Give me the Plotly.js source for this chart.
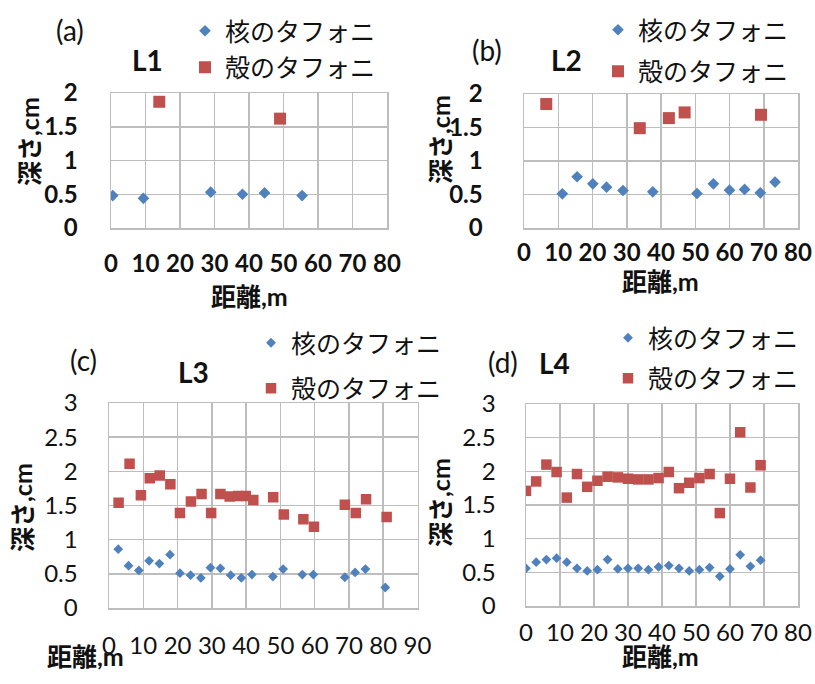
<!DOCTYPE html>
<html>
<head>
<meta charset="utf-8">
<script src="https://cdn.plot.ly/plotly-3.0.1.min.js"></script>
<style>html,body{margin:0;padding:0;background:#fff;}#chart{width:815px;height:684px;}</style>
</head>
<body>
<div id="chart"></div>
<script>
// ---- data ----
const seriesNames = ["核のタフォニ", "殻のタフォニ"];

const aCoreX = [0.5, 9.4, 28.9, 38.1, 44.5, 55.4];
const aCoreY = [0.48, 0.44, 0.53, 0.50, 0.52, 0.48];
const aShellX = [14, 49];
const aShellY = [1.87, 1.62];

const bCoreX = [11.2, 15.5, 20.1, 24.1, 28.9, 37.6, 50.5, 55.3, 60.0, 64.4, 69.0, 73.3];
const bCoreY = [0.51, 0.765, 0.66, 0.61, 0.56, 0.54, 0.515, 0.66, 0.565, 0.575, 0.525, 0.685];
const bShellX = [6.5, 33.8, 42.3, 46.9, 69.2];
const bShellY = [1.85, 1.49, 1.64, 1.725, 1.69];

const cCoreX = [2.7, 5.7, 8.7, 11.7, 14.7, 17.8, 20.7, 23.8, 26.8, 29.6, 32.5, 35.5, 38.6, 41.7, 47.8, 50.8, 56.4, 59.6, 68.8, 71.8, 74.8, 80.6];
const cCoreY = [0.86, 0.62, 0.55, 0.69, 0.65, 0.78, 0.51, 0.48, 0.44, 0.59, 0.58, 0.48, 0.44, 0.49, 0.46, 0.57, 0.49, 0.49, 0.45, 0.52, 0.57, 0.30];
const cShellX = [2.8, 6.0, 9.3, 11.9, 14.8, 17.9, 20.7, 23.9, 27.0, 29.8, 32.5, 35.2, 37.7, 39.9, 42.1, 47.9, 51.0, 56.7, 59.8, 68.8, 72.0, 75.0, 81.0];
const cShellY = [1.54, 2.11, 1.65, 1.90, 1.94, 1.81, 1.39, 1.56, 1.67, 1.39, 1.67, 1.63, 1.64, 1.64, 1.58, 1.62, 1.37, 1.30, 1.19, 1.51, 1.39, 1.59, 1.33];

const dCoreX = [0, 3, 6, 9, 12, 15, 18, 21, 24, 27, 30, 33, 36, 39, 42, 45, 48, 51, 54, 57, 60, 63, 66, 69];
const dCoreY = [0.56, 0.65, 0.69, 0.71, 0.65, 0.56, 0.52, 0.54, 0.69, 0.55, 0.56, 0.56, 0.54, 0.58, 0.60, 0.56, 0.52, 0.54, 0.57, 0.44, 0.55, 0.76, 0.59, 0.68];
const dShellX = [0, 3, 6, 9, 12, 15, 18, 21, 24, 27, 30, 33, 36, 39, 42, 45, 48, 51, 54, 57, 60, 63, 66, 69];
const dShellY = [1.71, 1.85, 2.10, 1.99, 1.61, 1.96, 1.77, 1.86, 1.92, 1.91, 1.89, 1.88, 1.88, 1.90, 1.99, 1.75, 1.83, 1.90, 1.96, 1.38, 1.89, 2.58, 1.76, 2.09];

const panelLabels = ["(a)", "(b)", "(c)", "(d)"];
const lineLabels = ["L1", "L2", "L3", "L4"];
const xTitle = "距離,m";
const yTitle = "深さ,cm";

// ---- styles ----
const FONT = "Lato, 'Noto Sans CJK JP', sans-serif";
const BLUE = "#4F81BD";
const RED = "#C0504D";
const GRID = "#BDBDBD";

function pair(xa, ya, cx, cy, sx, sy, leg, big) {
  return [
    {x: cx, y: cy, xaxis: xa, yaxis: ya, type: "scatter", mode: "markers", name: seriesNames[0],
     legend: leg, legendgroup: leg + "c",
     marker: {symbol: "diamond", color: BLUE, size: big ? 9 : 7.5}},
    {x: sx, y: sy, xaxis: xa, yaxis: ya, type: "scatter", mode: "markers", name: seriesNames[1],
     legend: leg, legendgroup: leg + "s",
     marker: {symbol: "square", color: RED, size: big ? 12 : 10.5}}
  ];
}

const data = [].concat(
  pair("x", "y", aCoreX, aCoreY, aShellX, aShellY, "legend", true),
  pair("x2", "y2", bCoreX, bCoreY, bShellX, bShellY, "legend2", true),
  pair("x3", "y3", cCoreX, cCoreY, cShellX, cShellY, "legend3", false),
  pair("x4", "y4", dCoreX, dCoreY, dShellX, dShellY, "legend4", false)
);

const W = 815, H = 684;
function px(v) { return v / W; }
function py(v) { return 1 - v / H; }

function xax(d0, d1, anchor, maxv, bold, standoff) {
  return {domain: [px(d0), px(d1)], anchor: anchor, range: [0, maxv], dtick: 10, tick0: 0,
    showgrid: true, gridcolor: GRID, gridwidth: 1.5, zeroline: false,
    showline: true, mirror: true, linecolor: GRID, linewidth: 1.5, ticks: "",
    ticklabelstandoff: standoff, fixedrange: true,
    tickfont: {family: FONT, size: 24, color: "#111", weight: bold ? "bold" : "normal"}};
}
function yax(t, b, anchor, maxv, bold, gap) {
  return {domain: [py(b), py(t)], anchor: anchor, range: [0, maxv], dtick: 0.5, tick0: 0,
    showgrid: true, gridcolor: GRID, gridwidth: 1.5, zeroline: false,
    showline: true, mirror: true, linecolor: GRID, linewidth: 1.5,
    ticks: "outside", ticklen: gap, tickcolor: "rgba(0,0,0,0)", fixedrange: true,
    tickfont: {family: FONT, size: 24, color: "#111", weight: bold ? "bold" : "normal"}};
}
function leg(xp, yp, gap) {
  return {x: px(xp), y: py(yp), xanchor: "left", yanchor: "top", bgcolor: "rgba(0,0,0,0)",
    font: {family: FONT, size: 25, color: "#111"}, tracegroupgap: gap, traceorder: "grouped"};
}
function ann(text, xp, yp, size, bold, angle) {
  return {text: text, x: px(xp), y: py(yp), xref: "paper", yref: "paper", showarrow: false,
    xanchor: "center", yanchor: "middle", textangle: angle || 0,
    font: {family: FONT, size: size, color: "#111", weight: bold ? "bold" : "normal"}};
}

const layout = {
  width: W, height: H,
  margin: {l: 0, r: 0, t: 0, b: 0},
  paper_bgcolor: "#fff", plot_bgcolor: "#fff",
  showlegend: true,
  xaxis: xax(111, 387, "y", 80, true, 14),
  yaxis: yax(93, 228, "x", 2, true, 27),
  xaxis2: xax(524, 798, "y2", 80, true, 3),
  yaxis2: yax(94, 228, "x2", 2, true, 35),
  xaxis3: xax(109, 417.5, "y3", 90, false, 16),
  yaxis3: yax(403, 608, "x3", 3, false, 25),
  xaxis4: xax(526, 798, "y4", 80, false, 5),
  yaxis4: yax(404, 606, "x4", 3, false, 24),
  legend: leg(185, 8, 1),
  legend2: leg(598, 7, 6),
  legend3: leg(251, 320, 10),
  legend4: leg(608, 315, 5),
  annotations: [
    ann(panelLabels[0], 70, 30, 28, false),
    ann(lineLabels[0], 147, 60, 28, true),
    ann(panelLabels[1], 487, 50, 28, false),
    ann(lineLabels[1], 566, 60, 28, true),
    ann(panelLabels[2], 83, 360, 28, false),
    ann(lineLabels[2], 193, 372, 28, true),
    ann(panelLabels[3], 503, 362, 28, false),
    ann(lineLabels[3], 554, 363, 28, true),
    ann(xTitle, 249, 296, 25, true),
    ann(xTitle, 660, 281, 25, true),
    ann(xTitle, 85, 656, 25, true),
    ann(xTitle, 660, 656, 25, true),
    ann(yTitle, 29, 142, 25, true, -90),
    ann(yTitle, 440, 140, 25, true, -90),
    ann(yTitle, 22, 508, 25, true, -90),
    ann(yTitle, 440, 503, 25, true, -90)
  ]
};

Plotly.newPlot("chart", data, layout, {staticPlot: true, displayModeBar: false});
</script>
</body>
</html>
